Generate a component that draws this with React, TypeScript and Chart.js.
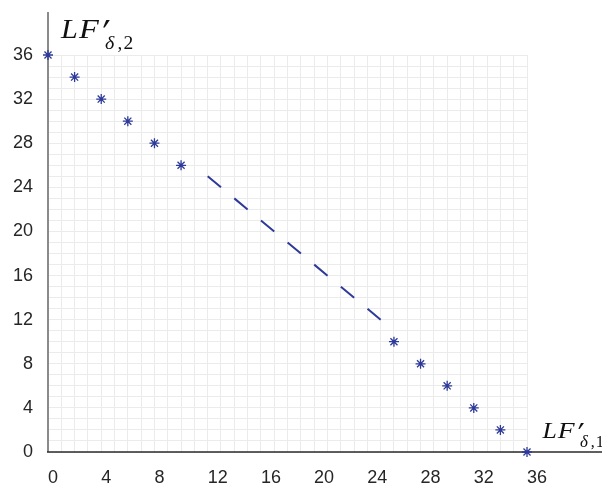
import { useEffect, useRef } from 'react';
import { Chart, registerables } from 'chart.js';

Chart.register(...registerables);

// ---- data ----
const upperX = [0, 2, 4, 6, 8, 10];
const upperY = [36, 34, 32, 30, 28, 26];
const lowerX = [26, 28, 30, 32, 34, 36];
const lowerY = [10, 8, 6, 4, 2, 0];
const dashX = [12, 25];
const dashY = [25, 12];
const axisMin = 0;
const axisMax = 36;
const gridStep = 1;
const labelStep = 4;
const xTitleIndex = '1';
const yTitleIndex = '2';

const BLUE = '#2d3a98';
const TICK_FONT = { family: '"Liberation Sans", Arial, sans-serif', size: 18 };
const SERIF = '"Liberation Serif", "DejaVu Serif", serif';

function pts(xs: number[], ys: number[]) {
  return xs.map((x, i) => ({ x, y: ys[i] }));
}

function glyph(ctx: CanvasRenderingContext2D, t: string, x: number, y: number, font: string, sx: number) {
  ctx.save();
  ctx.translate(x, y);
  ctx.scale(sx, 1);
  ctx.font = font;
  ctx.fillText(t, 0, 0);
  ctx.restore();
}

function drawMath(ctx: CanvasRenderingContext2D, x: number, base: number, size: number, idx: string) {
  const s = size / 27;
  ctx.save();
  ctx.fillStyle = '#111';
  ctx.textBaseline = 'alphabetic';
  ctx.textAlign = 'left';
  const main = `italic ${size}px ${SERIF}`;
  glyph(ctx, 'L', x, base, main, 1.12);
  glyph(ctx, 'F', x + 18 * s, base, main, 1.2);
  glyph(ctx, '′', x + 41.5 * s, base + 12 * s, `${40 * s}px "DejaVu Sans", sans-serif`, 0.9);
  const sb = base + 11 * s;
  glyph(ctx, 'δ', x + 44 * s, sb, `italic ${19 * s}px ${SERIF}`, 1.05);
  glyph(ctx, ',', x + 56.5 * s, sb, `${19 * s}px ${SERIF}`, 1);
  glyph(ctx, idx, x + 62.5 * s, sb, `${19.5 * s}px ${SERIF}`, 1);
  ctx.restore();
}

const frame = {
  id: 'frame',
  beforeDatasetsDraw(chart: any) {
    const { ctx } = chart;
    const xs = chart.scales.x;
    const ys = chart.scales.y;
    const x0 = xs.getPixelForValue(axisMin);
    const y0 = ys.getPixelForValue(axisMin);
    ctx.save();
    ctx.strokeStyle = '#8a8a8a';
    ctx.lineWidth = 2;
    ctx.beginPath();
    ctx.moveTo(x0, 12);
    ctx.lineTo(x0, y0);
    ctx.stroke();
    ctx.strokeStyle = '#2a2a2a';
    ctx.lineWidth = 1.6;
    ctx.beginPath();
    ctx.moveTo(x0 - 1, y0);
    ctx.lineTo(chart.width, y0);
    ctx.stroke();
    ctx.restore();
  },
  afterDraw(chart: any) {
    const { ctx } = chart;
    drawMath(ctx, 61, 37.5, 27, yTitleIndex);
    drawMath(ctx, 542.5, 438, 23, xTitleIndex);
  },
};

export default function App() {
  const ref = useRef<HTMLCanvasElement>(null);
  useEffect(() => {
    if (!ref.current) return;
    const tickCb = (v: any) => (Number(v) % labelStep === 0 ? String(v) : '');
    const chart = new Chart(ref.current, {
      type: 'scatter',
      data: {
        datasets: [
          {
            data: pts(upperX, upperY),
            pointStyle: 'star',
            pointRadius: 5,
            borderColor: BLUE,
            backgroundColor: BLUE,
            borderWidth: 1.3,
            showLine: false,
            clip: false,
          },
          {
            data: pts(lowerX, lowerY),
            pointStyle: 'star',
            pointRadius: 5,
            borderColor: BLUE,
            backgroundColor: BLUE,
            borderWidth: 1.3,
            showLine: false,
            clip: false,
          },
          {
            data: pts(dashX, dashY),
            showLine: true,
            pointRadius: 0,
            borderColor: BLUE,
            borderWidth: 2,
            borderDash: [17.3, 17.3],
            clip: false,
          } as any,
        ],
      },
      options: {
        animation: false,
        responsive: false,
        events: [],
        layout: { padding: { top: 55, right: 75, left: 0, bottom: 0 } },
        plugins: { legend: { display: false }, tooltip: { enabled: false } },
        scales: {
          x: {
            type: 'linear',
            min: axisMin,
            max: axisMax,
            border: { display: false },
            grid: { color: '#ebebeb', lineWidth: 1, drawTicks: false },
            ticks: {
              stepSize: gridStep,
              autoSkip: false,
              maxRotation: 0,
              align: 'start',
              padding: 15,
              color: '#262626',
              font: TICK_FONT,
              callback: tickCb,
            },
            afterFit: (s: any) => {
              s.height = 34;
            },
          },
          y: {
            type: 'linear',
            min: axisMin,
            max: axisMax,
            border: { display: false },
            grid: { color: '#ebebeb', lineWidth: 1, drawTicks: false },
            ticks: {
              stepSize: gridStep,
              autoSkip: false,
              padding: 15,
              color: '#262626',
              font: TICK_FONT,
              callback: tickCb,
            },
            afterFit: (s: any) => {
              s.width = 48;
            },
          },
        },
      },
      plugins: [frame],
    });
    return () => chart.destroy();
  }, []);
  return (
    <div style={{ position: 'fixed', left: 0, top: 0, width: 602, height: 486, background: '#fff' }}>
      <canvas ref={ref} width={602} height={486} style={{ display: 'block', width: 602, height: 486 }} />
    </div>
  );
}
